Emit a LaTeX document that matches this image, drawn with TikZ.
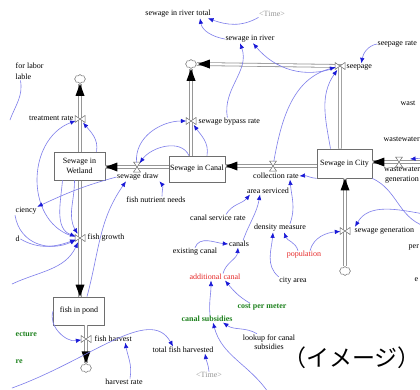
\documentclass[tikz,border=0pt]{standalone}
\usepackage{fontspec}
\setmainfont{Liberation Serif}
\newfontfamily\cjk{Noto Sans CJK JP}
\usetikzlibrary{arrows.meta,shapes.symbols}
\definecolor{linkblue}{RGB}{125,125,235}
\definecolor{headblue}{RGB}{25,25,215}
\definecolor{pipegray}{RGB}{150,150,150}
\definecolor{boxgray}{RGB}{110,110,110}
\definecolor{txtred}{RGB}{230,40,40}
\definecolor{txtgreen}{RGB}{30,130,30}
\definecolor{timegray}{RGB}{150,150,150}
\tikzset{
  lbl/.style={font=\fontsize{8}{9.5}\selectfont, inner sep=0.5pt, align=center},
  lblb/.style={font=\fontsize{8}{9.5}\selectfont\bfseries, inner sep=0.5pt, align=center, text=txtgreen},
  stock/.style={draw=boxgray, fill=white, line width=0.8pt, font=\fontsize{8}{10}\selectfont, align=center, inner sep=1pt},
  cloudn/.style={cloud, cloud puffs=8, draw=boxgray, fill=white, line width=0.5pt, minimum width=11pt, minimum height=9pt, inner sep=0pt, aspect=1.3},
  valvept/.style={circle, minimum size=9pt, inner sep=0pt},
  pipe/.style={draw=pipegray, line width=0.8pt, double=white, double distance=2.2pt},
  valveline/.style={draw=boxgray, fill=white, line width=0.5pt},
  conn/.style={draw=linkblue, line width=0.6pt, -{Latex[length=5.5pt,width=4.5pt,color=headblue]}},
  plain/.style={draw=linkblue, line width=0.6pt},
  vvalve/.pic={\draw[valveline] (-5,-3.5) -- (5,3.5) -- (5,-3.5) -- (-5,3.5) -- cycle;},
  hvalve/.pic={\draw[valveline] (-3.5,-5) -- (3.5,5) -- (-3.5,5) -- (3.5,-5) -- cycle;},
  fhup/.pic={\fill[black] (0,0) -- (-4.5,12) -- (4.5,12) -- cycle;},
  fhdown/.pic={\fill[black] (0,0) -- (-4.5,-12) -- (4.5,-12) -- cycle;},
  fhleft/.pic={\fill[black] (0,0) -- (12,-4.5) -- (12,4.5) -- cycle;},
}
\begin{document}
\begin{tikzpicture}[x=1pt,y=-1pt]
\useasboundingbox[fill=white] (0,0) rectangle (420,389);
\begin{scope}
\clip (0,0) rectangle (420,389);

% clouds
\node[cloudn] (cWet) at (80,79) {};
\node[cloudn] (cBypass) at (191,64) {};
\node[cloudn] (cGen) at (345,271) {};
\node[cloudn] (cPond) at (86,368) {};

% valve points
\node[valvept] (vTreat) at (80,119) {};
\node[valvept] (vGrowth) at (80,238) {};
\node[valvept] (vBypass) at (191,121) {};
\node[valvept] (vSeep) at (340,66) {};
\node[valvept] (vDraw) at (137,167) {};
\node[valvept] (vColl) at (273,166) {};
\node[valvept] (vWaste) at (399,162) {};
\node[valvept] (vGen) at (345,231) {};
\node[valvept] (vHarv) at (86,339) {};
\coordinate (edgeR) at (426,162);

% stocks (except wetland)
\node[stock, minimum width=56pt, minimum height=26pt] (sCanal) at (197,169) {Sewage in Canal};
\node[stock, minimum width=55pt, minimum height=29pt] (sCity) at (344.5,163.5) {Sewage in City};
\node[stock, minimum width=51pt, minimum height=28pt] (sPond) at (79,311) {fish in pond};

% pipes
\draw[pipe] (cWet.south) -- (cWet |- sPond.north);
\node[stock, minimum width=51pt, minimum height=28pt] (sWet) at (79.5,166) {Sewage in\\Wetland};
\draw[pipe] (sCanal.north -| vBypass) -- (cBypass.south);
\draw[pipe] (sCity.north -| vSeep) -- (vSeep.center) -- (cBypass.east);
\draw[pipe] (sCanal.west |- vDraw) -- (sWet.east |- vDraw);
\draw[pipe] (sCity.west |- vColl) -- (sCanal.east |- vColl);
\draw[pipe] (edgeR) -- (sCity.east |- vWaste);
\draw[pipe] (cGen.north) -- (sCity.south -| cGen);
\draw[pipe] (sPond.south -| vHarv) -- (cPond.north);

% pipe arrowheads
\pic at (cWet.south) {fhup};
\pic at (cWet |- sPond.north) {fhdown};
\pic at (cBypass.south) {fhup};
\pic at ([xshift=1pt]cBypass.east) {fhleft};
\pic at (sWet.east |- vDraw) {fhleft};
\pic at (sCanal.east |- vColl) {fhleft};
\pic at (sCity.east |- vWaste) {fhleft};
\pic at (sCity.south -| cGen) {fhup};
\pic at (cPond.north) {fhdown};

% valves
\pic at (vTreat) {vvalve};
\pic at (vGrowth) {vvalve};
\pic at (vBypass) {vvalve};
\pic at (vSeep) {vvalve};
\pic at (vGen) {vvalve};
\pic at (vHarv) {vvalve};
\pic at (vDraw) {hvalve};
\pic at (vColl) {hvalve};
\pic at (vWaste) {hvalve};

% labels
\node[lbl] (tRiverTotal) at (178,14) {sewage in river total};
\node[lbl,text=timegray] (tTime1) at (272,14) {<Time>};
\node[lbl] (tRiver) at (250,39) {sewage in river};
\node[lbl,anchor=west] (tSeepRate) at (377,44) {seepage rate};
\node[lbl,anchor=west] (tSeep) at (346,67) {seepage};
\node[lbl,anchor=west] (tLabor1) at (15,66) {for labor};
\node[lbl,anchor=west] (tLabor2) at (15,77) {lable};
\node[lbl,anchor=east] (tTreat) at (74,118) {treatment rate};
\node[lbl,anchor=west] (tBypass) at (198,122) {sewage bypass rate};
\node[lbl] (tDraw) at (138,177) {sewage draw};
\node[lbl] (tNutr) at (156,200) {fish nutrient needs};
\node[lbl,anchor=west] (tEff) at (15,211) {ciency};
\node[lbl,anchor=west] (tD) at (15,239) {d};
\node[lbl,anchor=west] (tGrowth) at (87,238) {fish growth};
\node[lbl] (tColl) at (276,176) {collection rate};
\node[lbl] (tArea) at (268,191) {area serviced};
\node[lbl] (tServ) at (218,218) {canal service rate};
\node[lbl] (tDensity) at (280,228) {density measure};
\node[lbl] (tExisting) at (195,252) {existing canal};
\node[lbl] (tCanals) at (239,244) {canals};
\node[lbl,text=txtred] (tPop) at (304,255) {population};
\node[lbl] (tCityArea) at (293,281) {city area};
\node[lbl,anchor=west] (tGen) at (354,231) {sewage generation};
\node[lbl,anchor=west] (tW1) at (400,103) {wast};
\node[lbl,anchor=west] (tW2) at (383,139) {wastewater};
\node[lbl] (tWaste) at (402,175) {wastewater\\generation};
\node[lbl,anchor=west] (tPer) at (408,247) {per};
\node[lbl,anchor=west] (tE) at (414,280) {e};
\node[lbl,text=txtred] (tAdd) at (215,277) {additional canal};
\node[lblb] (tCost) at (262,307) {cost per meter};
\node[lblb] (tSubs) at (207,319) {canal subsidies};
\node[lbl] (tLookup) at (269,342) {lookup for canal\\subsidies};
\node[lbl] (tTotal) at (183,350) {total fish harvested};
\node[lbl,text=timegray] (tTime2) at (209,375) {<Time>};
\node[lbl] (tHarvRate) at (124,382) {harvest rate};
\node[lbl,anchor=west] (tHarv) at (94,339) {fish harvest};
\node[lblb,anchor=west] (tEct) at (15,334) {ecture};
\node[lblb,anchor=west] (tRe) at (15,362) {re};
\node[font=\cjk\fontsize{23}{25}\selectfont, inner sep=0pt] (tJp) at (352,358) {（イメージ）};

% free ends
\coordinate (bTime) at (268,392);
\coordinate (bl) at (12,388);
\coordinate (blc) at (12,284);
\coordinate (rgt1) at (424,214);
\coordinate (rgt2) at (424,226);
\coordinate (rgt3) at (424,158);
\coordinate (wTip) at (410,159);
\coordinate (lab0) at (10,120);

% connectors: top
\draw[conn] (tTime1.south west) to[out=-150,in=-20] ([xshift=30pt]tRiverTotal.south);
\draw[conn] (tRiver.west) to[out=170,in=-80] ([xshift=22pt]tRiverTotal.south);
\draw[conn] ([xshift=-2pt]tBypass.north) to[out=100,in=-70] ([xshift=-10pt]tRiver.south);
\draw[conn] (vSeep) to[out=-160,in=-50] ([xshift=3pt]tRiver.south);
\draw[conn] (vColl) to[out=80,in=-165] (vSeep);
\draw[conn] ([xshift=-14pt]sCity.north) to[out=100,in=-125] (vSeep);
\draw[conn] (tSeepRate.west) to[out=190,in=80] ([xshift=2pt]tSeep.north);

% connectors: canal / city area
\draw[conn] (sCity.south west) to[out=175,in=5] (tColl.east);
\draw[conn] ([xshift=10pt]tDensity.north) to[out=70,in=-85] ([xshift=14pt]tColl.south);
\draw[conn] ([xshift=4pt]tCanals.north) to[out=70,in=-100] ([xshift=-8pt]tArea.south);
\draw[conn] ([xshift=8pt]tServ.north) to[out=60,in=-130] ([xshift=-18pt]tArea.south);
\draw[conn] (tExisting.north) to[out=70,in=175] (tCanals.west);
\draw[conn] ([xshift=8pt]tAdd.north) to[out=75,in=-95] ([xshift=-1pt]tCanals.south);
\draw[conn] ([xshift=3pt]tSubs.north) to[out=95,in=-90] ([xshift=-4pt]tAdd.south);
\draw[conn] ([xshift=-12pt]tCost.north) to[out=150,in=-50] ([xshift=10pt]tAdd.south);
\draw[conn] ([xshift=-12pt]tLookup.north) to[out=150,in=-35] ([xshift=16pt]tSubs.south);
\draw[conn] (bTime) to[out=125,in=-75] ([xshift=6pt]tSubs.south);
\draw[conn] ([xshift=-6pt]tPop.north) to[out=105,in=-70] ([xshift=4pt]tDensity.south);
\draw[conn] (tCityArea.north west) to[out=140,in=-95] ([xshift=-7pt]tDensity.south);
\draw[conn] ([xshift=6pt]tPop.north) to[out=75,in=185] (vGen);
\draw[conn] (rgt1) to[out=170,in=60] ([xshift=1pt]tGen.north west);
\draw[plain] (sCity.south east) to[out=-25,in=160] (rgt2);
\draw[conn] (rgt3) -- (wTip);

% connectors: wetland / canal
\draw[conn] ([xshift=-8pt]sCanal.north) to[out=115,in=55] (vDraw);
\draw[conn] (vDraw) to[out=95,in=180] (vBypass);
\draw[conn] ([xshift=10pt]sCanal.north) to[out=80,in=-55] (vBypass);
\draw[conn] ([xshift=6pt]tNutr.north) to[out=90,in=-50] (tDraw.south east);
\draw[conn] ([xshift=17pt]sWet.north) to[out=80,in=-50] (vTreat);
\draw[conn] (vGrowth) .. controls (25,225) and (25,140) .. (vTreat);
\draw[conn] (tDraw.west) to[out=195,in=25] (tEff.north east);
\draw[conn] (tEff.south west) .. controls (20,245) and (50,252) .. (vGrowth);
\draw[conn] (tD.east) to[out=-30,in=200] (vGrowth);
\draw[conn] (blc) to[out=25,in=-115] (vGrowth);
\draw[conn] ([xshift=-17pt]sWet.south) to[out=-95,in=160] (vGrowth);
\draw[conn] ([xshift=-5pt]sWet.south) to[out=-90,in=120] (vGrowth);
\draw[conn] ([xshift=8pt]sPond.north) to[out=75,in=-125] ([xshift=-12pt]tDraw.south);
\draw[plain] ([xshift=-3pt]tLabor2.south) to[out=-80,in=70] (lab0);

% connectors: pond
\draw[conn] (tTime2.north) to[out=95,in=-80] ([xshift=22pt]tTotal.south);
\draw[conn] (bl) .. controls (90,360) and (150,305) .. ([xshift=-10pt]tTotal.north);
\draw[conn] ([xshift=6pt]tHarvRate.north) to[out=80,in=-80] ([xshift=12pt]tHarv.south);
\draw[conn] (sPond.west) to[out=-110,in=190] (vHarv);
\end{scope}
\end{tikzpicture}
\end{document}
